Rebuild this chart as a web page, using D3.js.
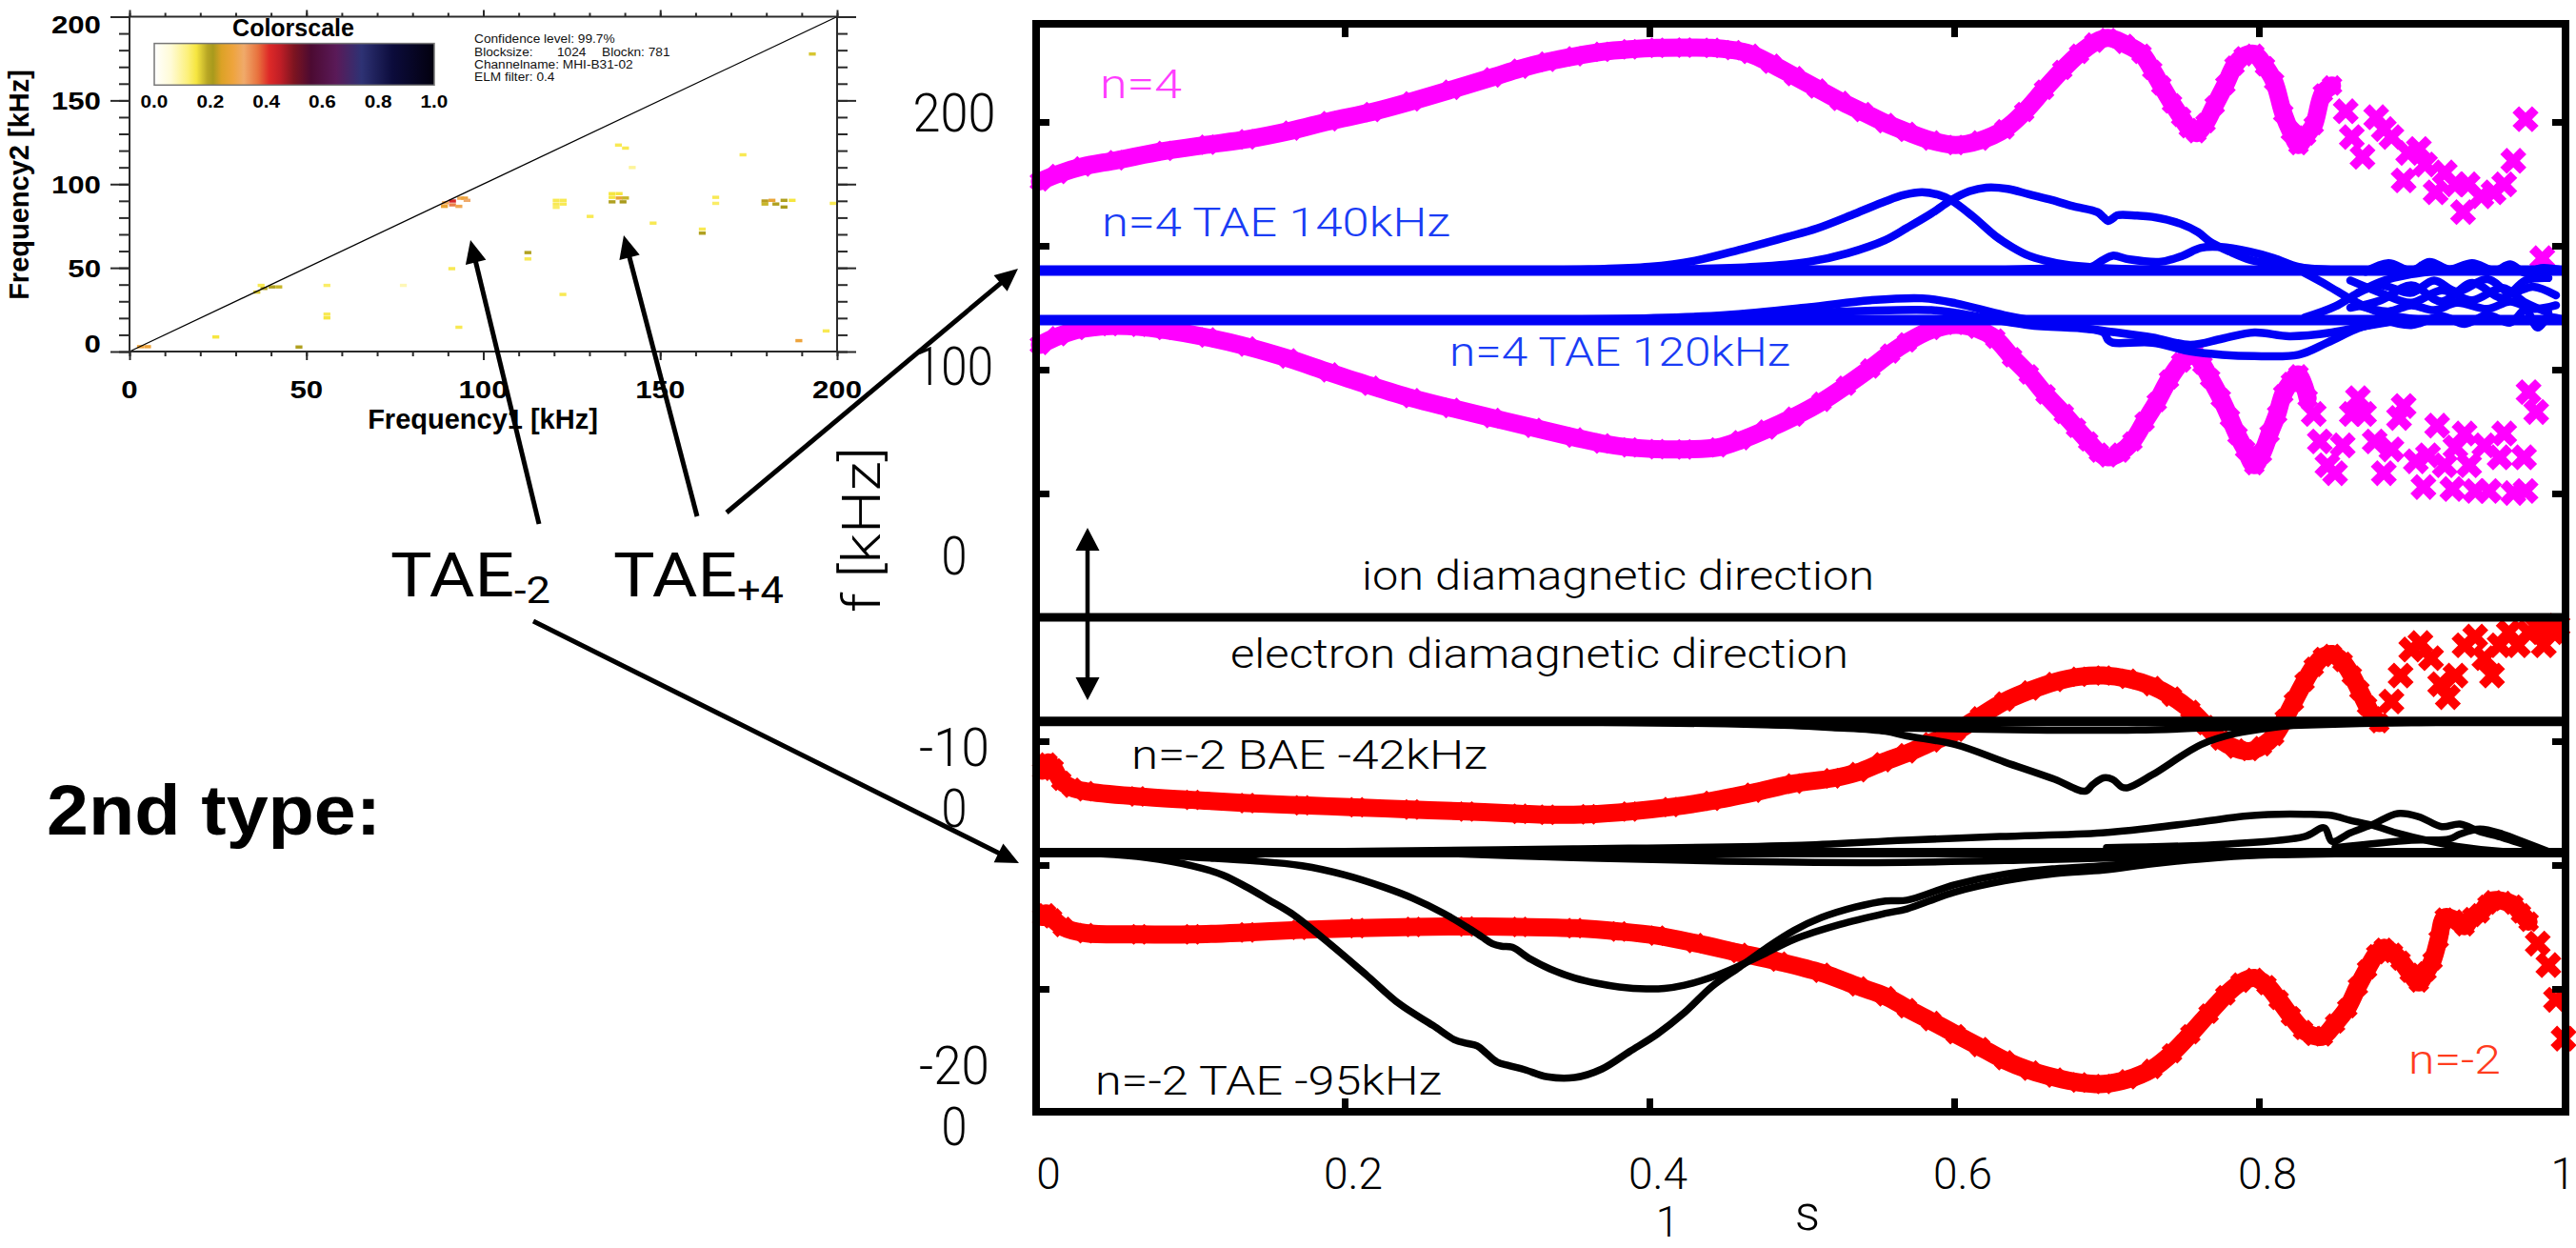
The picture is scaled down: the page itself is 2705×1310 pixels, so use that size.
<!DOCTYPE html>
<html>
<head>
<meta charset="utf-8">
<script src="https://cdn.jsdelivr.net/npm/d3@7"></script>
<style>
  html, body { margin: 0; padding: 0; background: #fff; overflow: hidden; }
  svg { display: block; }
</style>
</head>
<body>
<svg id="fig" width="2705" height="1310"></svg>
<script>
// ---------------- bicoherence panel (MHI-B31-02) ----------------
const bicohTicks = [0, 50, 100, 150, 200];
const bicohMinorTicks = [0,10,20,30,40,50,60,70,80,90,100,110,120,130,140,150,160,170,180,190,200];
const colorbarTicks = [0.0, 0.2, 0.4, 0.6, 0.8, 1.0];
const colorStops = [0, 0.06, 0.12, 0.15, 0.19, 0.21, 0.24, 0.28, 0.32, 0.37, 0.41, 0.45, 0.50, 0.56, 0.65, 0.74, 0.85, 1.0];
const colorStopColors = ["#ffffff","#fffbd6","#fcf07a","#f6e640","#b8a624","#a89a1c","#dca226","#eea43c","#f0aa6a","#e8723e","#de2a28","#c01e26","#7c1420","#4c0a32","#5a1a58","#2e3274","#0c0c3c","#02000e"];
const infoLines = ["Confidence level: 99.7%", "Blocksize:", "Channelname: MHI-B31-02", "ELM filter: 0.4"];
const blockInfo = ["1024", "Blockn: 781"];
const binWidth = 1.953; // kHz
// [f1 kHz, f2 kHz, bicoherence]
const bicohCells = [
  [3.1,2.9,0.28],[5.1,2.9,0.28],[24.4,8.7,0.15],[47.9,2.7,0.2],
  [36.0,35.5,0.17],[38.0,37.7,0.2],[40.2,38.6,0.2],[42.2,38.6,0.18],[37.2,39.5,0.14],
  [55.8,39.5,0.13],[55.8,22.3,0.14],[55.8,20.1,0.15],[77.4,39.5,0.08],[91.1,49.5,0.14],[93.1,14.5,0.14],
  [89.3,88.8,0.3],[91.3,89.9,0.42],[91.3,87.6,0.36],[93.6,91.6,0.3],[94.7,91.6,0.28],[89.0,86.7,0.27],[93.1,86.7,0.3],[95.4,90.3,0.32],
  [112.6,59.1,0.2],[112.6,55.3,0.14],[122.5,34.1,0.14],
  [120.6,90.3,0.14],[122.6,90.3,0.14],[120.6,88.1,0.14],[122.6,88.1,0.14],[120.6,86.1,0.13],
  [130.2,80.7,0.14],
  [136.4,94.3,0.15],[138.4,94.3,0.15],[136.4,92.1,0.15],[138.4,91.7,0.27],[136.4,89.4,0.2],[139.5,89.4,0.21],[140.2,91.7,0.18],
  [138.2,123.3,0.14],[140.2,121.5,0.14],[142.1,109.9,0.1],[148.0,76.7,0.14],
  [161.9,73.1,0.14],[161.9,70.7,0.2],[165.7,92.1,0.14],[165.7,88.5,0.13],[173.4,117.5,0.14],
  [179.6,89.9,0.22],[181.6,90.3,0.27],[179.6,88.1,0.18],[182.7,88.1,0.2],[185.0,90.3,0.2],[187.3,90.3,0.15],[185.0,86.3,0.21],
  [193.0,177.7,0.17],[196.9,12.3,0.14],[189.2,6.5,0.28],[198.9,88.5,0.14]
];

// ---------------- continuum panel ----------------
const sTicks = [0, 0.2, 0.4, 0.6, 0.8, 1];
const sTickLabels = ["0", "0.2", "0.4", "0.6", "0.8", "1"];
const fTicks = [-150, -100, -50, 50, 100, 150, 200];
const fLabelValues = [200, 100, 0, -100, -200];
const fLabelLines = [["200"], ["100"], ["0"], ["-10", "0"], ["-20", "0"]];

// n=4 continuum, [s, f kHz]
const n4Upper = [[0,176],[0.012,179],[0.028,182],[0.05,184.5],[0.082,188.3],[0.11,190.8],[0.136,193],[0.165,196.5],[0.19,200.3],[0.218,204],[0.244,208.3],[0.27,213],[0.297,218],[0.315,221.5],[0.333,224.3],[0.351,226.5],[0.369,228.3],[0.387,229.3],[0.405,229.9],[0.423,230],[0.441,229.9],[0.455,229],[0.466,227.5],[0.48,223.5],[0.495,218.5],[0.51,213.5],[0.525,208.5],[0.54,204],[0.555,199.5],[0.569,196],[0.585,192.5],[0.601,190.7],[0.617,192.5],[0.633,197],[0.646,204],[0.659,213],[0.671,221],[0.682,227.5],[0.692,232],[0.701,233.9],[0.712,231.5],[0.723,227.5],[0.73,221],[0.736,214.7],[0.743,207.5],[0.749,202],[0.754,197.5],[0.759,195.5],[0.765,199.5],[0.771,206.7],[0.778,215],[0.784,222.7],[0.79,226.5],[0.797,227.5],[0.804,222.5],[0.81,216.3],[0.816,203.5],[0.821,196],[0.826,190.7],[0.831,194.5],[0.836,198.7],[0.842,211.5],[0.848,214.7]];
const n4UpperScatter = [[0.857,204.3],[0.861,193.9],[0.868,185.9],[0.877,201.9],[0.882,197.1],[0.887,193.9],[0.895,176.4],[0.898,187.5],[0.905,189.1],[0.909,182.8],[0.916,171.6],[0.922,179.6],[0.929,174.8],[0.934,163.6],[0.937,174.8],[0.946,170],[0.954,171.6],[0.961,174.8],[0.967,184.3],[0.975,201.1],[0.986,145]];
const n4Lower = [[0,110],[0.012,113.5],[0.024,116],[0.046,117.6],[0.065,117.3],[0.082,116],[0.11,113],[0.136,109.3],[0.163,104.5],[0.19,98.9],[0.217,93.5],[0.244,88.5],[0.27,84.5],[0.297,80.5],[0.324,76.5],[0.351,72.6],[0.369,70.2],[0.387,68.6],[0.405,67.9],[0.423,67.8],[0.445,68.6],[0.46,71.5],[0.477,75.8],[0.495,81],[0.513,87],[0.529,93.5],[0.545,100.5],[0.558,106.5],[0.569,111],[0.585,116],[0.601,118.1],[0.615,116.5],[0.627,112.5],[0.638,105],[0.649,98.1],[0.66,90],[0.672,82.1],[0.68,76.5],[0.688,71],[0.695,66.5],[0.701,64.6],[0.709,66.5],[0.717,71],[0.725,79],[0.733,86.9],[0.741,96],[0.749,102.9],[0.757,106.9],[0.763,102],[0.768,96.5],[0.775,88.5],[0.781,80.5],[0.786,73.5],[0.791,67.8],[0.797,61.4],[0.802,66],[0.807,74.1],[0.812,82],[0.816,90.1],[0.821,95],[0.826,98.1],[0.832,88.5]];
const n4LowerScatter = [[0.836,82.1],[0.84,71],[0.845,61.4],[0.85,58.2],[0.855,69.4],[0.861,82.1],[0.865,88.5],[0.869,82.1],[0.876,71],[0.882,58.2],[0.887,67.8],[0.892,80.5],[0.895,85.3],[0.903,63],[0.908,52.6],[0.911,65.4],[0.917,77.4],[0.922,61.4],[0.927,51.8],[0.929,68.6],[0.935,74.2],[0.938,61.4],[0.942,51],[0.948,69.4],[0.951,51],[0.958,64.6],[0.961,74.2],[0.967,50.2],[0.974,64.6],[0.975,51],[0.977,90.9],[0.982,82.9]];

// n=-2 continuum
const nm2Upper = [[0.0015,-61.9],[0.005,-58.6],[0.009,-61],[0.014,-66],[0.021,-68.8],[0.03,-70.2],[0.064,-72.3],[0.1,-73.7],[0.136,-75],[0.172,-75.9],[0.208,-76.7],[0.244,-77.6],[0.28,-78.4],[0.315,-79.3],[0.333,-79.7],[0.36,-79.5],[0.387,-78.4],[0.414,-76.6],[0.441,-74.1],[0.468,-70.8],[0.495,-67.1],[0.52,-65],[0.537,-62.5],[0.553,-58.5],[0.569,-54.9],[0.585,-50.5],[0.601,-46.2],[0.617,-40],[0.633,-34],[0.65,-29.5],[0.666,-26.1],[0.682,-24],[0.698,-23.5],[0.714,-24.8],[0.73,-27.8],[0.743,-32],[0.755,-37.4],[0.765,-43.5],[0.775,-49.7],[0.785,-53],[0.794,-54],[0.802,-52],[0.81,-47.9],[0.817,-41],[0.823,-34],[0.83,-26],[0.836,-20],[0.842,-16],[0.848,-14.8],[0.855,-18],[0.861,-23.5],[0.866,-29.5],[0.871,-35.7],[0.875,-40],[0.879,-42.7]];
const nm2UpperScatter = [[0.887,-34],[0.893,-23.5],[0.9,-13],[0.906,-10.4],[0.913,-16.5],[0.919,-27],[0.924,-32.2],[0.929,-23.5],[0.935,-11.3],[0.942,-7.8],[0.948,-16.5],[0.953,-23.5],[0.958,-11.3],[0.964,-6],[0.97,-11.3],[0.977,-6],[0.983,-4.3],[0.987,-11.3],[0.993,-6],[0.996,-3.4]];
const nm2Lower = [[0.0015,-121],[0.004,-119.5],[0.008,-121.5],[0.015,-125],[0.03,-127.5],[0.065,-128],[0.1,-128],[0.136,-127.2],[0.17,-126.2],[0.208,-125.5],[0.245,-125],[0.28,-124.8],[0.315,-125],[0.351,-125.5],[0.38,-126.8],[0.405,-128.5],[0.43,-131.5],[0.459,-135.5],[0.485,-139],[0.513,-143.5],[0.537,-149],[0.555,-153],[0.569,-157.8],[0.585,-163],[0.601,-168.3],[0.617,-173.5],[0.633,-178.8],[0.65,-183],[0.666,-185.8],[0.682,-187.8],[0.698,-188.4],[0.714,-186.5],[0.73,-182.3],[0.743,-176],[0.755,-168.3],[0.767,-160],[0.778,-152.6],[0.788,-147.5],[0.797,-145.6],[0.805,-148.5],[0.813,-154.4],[0.821,-161],[0.829,-166.6],[0.836,-169],[0.842,-169.2],[0.85,-164],[0.858,-157.8],[0.865,-149],[0.871,-142.1],[0.877,-136],[0.882,-133.4],[0.888,-135.5],[0.893,-138.6],[0.899,-143.5],[0.905,-147.4],[0.91,-143],[0.914,-138.6],[0.918,-130],[0.922,-121.2],[0.928,-122],[0.935,-124.7],[0.94,-121],[0.945,-119.5],[0.95,-116],[0.954,-114.2],[0.96,-114.5],[0.967,-116],[0.972,-119.5],[0.977,-122.9]];
const nm2LowerScatter = [[0.983,-131.7],[0.99,-140.4],[0.995,-154.4],[1.0,-170.1]];

// n=4 TAE eigenmode frequencies and branches (blue)
const taeN4 = [140, 120];
const n4Branches = [
  [[0.3,140],[0.36,140.5],[0.4,141.5],[0.43,144],[0.46,148.5],[0.49,153.5],[0.51,157],[0.535,163],[0.555,168],[0.567,170.5],[0.579,171.6],[0.59,170.5],[0.598,168.4],[0.612,162],[0.627,154],[0.638,149.5],[0.649,146],[0.66,144],[0.672,142.5],[0.694,141.2],[0.73,140.3],[0.8,140]],
  [[0.35,140],[0.42,140.5],[0.47,141.5],[0.505,143.6],[0.53,147],[0.555,152.4],[0.569,157.2],[0.585,163],[0.598,168.4],[0.61,172],[0.621,173.5],[0.635,173],[0.649,170.8],[0.664,168.5],[0.678,166],[0.694,163.6],[0.698,161.5],[0.701,160],[0.704,161],[0.707,162.3],[0.72,162.2],[0.73,161.7],[0.749,158.8],[0.76,155.5],[0.768,151.6],[0.781,147.6],[0.794,144.4],[0.81,142.5],[0.826,141.2],[0.858,140]],
  [[0.62,140],[0.67,141],[0.69,141.5],[0.697,144],[0.704,146],[0.715,144.5],[0.736,143.6],[0.75,146],[0.762,149.2],[0.775,149.5],[0.794,147.6],[0.81,145],[0.826,141.5],[0.85,140]],
  [[0.3,120],[0.4,120.8],[0.45,122],[0.505,125.2],[0.545,128],[0.579,128.8],[0.601,126.8],[0.633,122],[0.665,118.5],[0.698,115.7],[0.73,113],[0.755,110],[0.776,112.5],[0.797,115],[0.82,113.5],[0.848,115],[0.869,117.5],[0.89,119.5],[0.91,120]],
  [[0.35,120],[0.45,121],[0.505,122.9],[0.585,124],[0.601,122.9],[0.649,118],[0.698,115],[0.701,112],[0.704,110.9],[0.73,110.9],[0.755,107.4],[0.776,106],[0.797,105.5],[0.826,106],[0.845,110.9],[0.868,117.3],[0.89,119.7],[0.91,120]],
  [[0.83,139],[0.845,134],[0.86,128.5],[0.875,124],[0.89,121.5],[0.91,120]],
  [[0.83,121],[0.85,125.5],[0.865,131],[0.88,135.5],[0.9,138.5],[0.92,140]],
  [[0.86,136],[0.88,131],[0.9,127],[0.92,132],[0.94,128],[0.96,133],[0.975,127],[0.99,123]],
  [[0.86,125],[0.88,128],[0.9,134],[0.92,127.5],[0.94,135],[0.96,129],[0.975,136],[0.99,137]],
  [[0.865,131],[0.88,134],[0.9,131],[0.915,136],[0.93,131.5],[0.95,136.5],[0.965,131],[0.98,133.5],[0.995,130]],
  [[0.865,126],[0.885,123.5],[0.9,126],[0.915,124],[0.93,127],[0.95,124.5],[0.965,127.5],[0.98,124.5],[0.995,126]],
  [[0.87,139.5],[0.885,143],[0.9,140],[0.912,143.5],[0.925,140.5],[0.94,143],[0.955,140],[0.965,142.5],[0.975,139],[0.985,141],[1.0,140]],
  [[0.88,120.5],[0.9,118],[0.92,121.5],[0.935,118.5],[0.95,122],[0.965,119],[0.975,124],[0.983,117],[0.99,121],[1.0,120]]
];

// n=-2 BAE / TAE eigenmode frequencies and branches (black)
const gapNm2 = [-42, -95];
const nm2Branches = [
  [[0.3,-42],[0.45,-43],[0.55,-44.5],[0.65,-45.5],[0.72,-45.5],[0.8,-44],[0.9,-42.5],[1.0,-42]],
  [[0.4,-42],[0.47,-43],[0.52,-44.5],[0.555,-46],[0.569,-47.9],[0.601,-51.4],[0.633,-58.4],[0.666,-65.4],[0.686,-70.2],[0.691,-67.5],[0.698,-64.8],[0.704,-65.4],[0.71,-68.5],[0.714,-68.8],[0.73,-63.6],[0.762,-51.4],[0.784,-47],[0.81,-44.4],[0.842,-42.7],[0.9,-42]],
  [[0,-95],[0.06,-95.2],[0.1,-96.8],[0.14,-98.3],[0.172,-100.3],[0.2,-104],[0.226,-109],[0.245,-113.5],[0.265,-119.5],[0.28,-125],[0.29,-129],[0.297,-131.8],[0.303,-132.8],[0.31,-133.2],[0.322,-138],[0.335,-142],[0.351,-145.6],[0.366,-147.8],[0.38,-149.2],[0.398,-150],[0.41,-149.8],[0.423,-148.5],[0.44,-145.5],[0.456,-141.5],[0.475,-136],[0.495,-130],[0.525,-124],[0.555,-119.5],[0.569,-117.7],[0.6,-111],[0.633,-106.4],[0.666,-103.5],[0.698,-102],[0.73,-99.5],[0.762,-97.6],[0.8,-96],[0.85,-95.3],[0.9,-95]],
  [[0,-95],[0.04,-95.5],[0.07,-97],[0.1,-100.3],[0.12,-104],[0.136,-109],[0.15,-114],[0.165,-119.5],[0.19,-131.7],[0.215,-144.8],[0.236,-156.1],[0.258,-164.8],[0.272,-170.5],[0.28,-172],[0.287,-173],[0.293,-176],[0.3,-179.5],[0.308,-181],[0.318,-182.6],[0.333,-185.5],[0.351,-185.8],[0.369,-182.3],[0.387,-175.3],[0.405,-168.3],[0.423,-159.6],[0.441,-149.1],[0.459,-141.3],[0.477,-133.4],[0.495,-126.4],[0.513,-121.2],[0.535,-117],[0.555,-114.5],[0.569,-114.2],[0.6,-108],[0.633,-103.7],[0.666,-101.5],[0.698,-100.3],[0.73,-98.5],[0.762,-96.8],[0.8,-95.5],[0.85,-95.1],[0.9,-95]],
  [[0,-95],[0.2,-94.5],[0.35,-93.5],[0.5,-92],[0.5675,-90],[0.63,-88.5],[0.697,-87],[0.73,-85],[0.764,-82.4],[0.79,-80.3],[0.806,-79.6],[0.83,-79.5],[0.848,-80],[0.86,-82],[0.875,-84],[0.89,-87],[0.91,-90],[0.93,-92.5],[0.96,-94.5],[1.0,-95]],
  [[0.7,-93],[0.78,-91.5],[0.83,-88.5],[0.843,-85],[0.848,-90.5],[0.86,-87],[0.875,-83.5],[0.891,-79.2],[0.905,-80.5],[0.92,-84.5],[0.932,-83.5],[0.945,-86.5],[0.96,-89],[0.975,-92],[0.99,-95]],
  [[0.85,-93],[0.9,-90],[0.925,-89.5],[0.932,-87.5],[0.945,-85.5],[0.96,-87.5],[0.975,-91],[0.99,-94.5]],
  [[0.25,-95],[0.35,-97],[0.45,-98.5],[0.55,-99],[0.65,-98],[0.75,-96.5],[0.85,-95.5]]
];

// ---------------- drawing ----------------
const LIGHT = "Roboto, 'Open Sans', 'DejaVu Sans', sans-serif";
const BOLD = "'Liberation Sans', Arial, Helvetica, sans-serif";
const svg = d3.select("#fig");
const defs = svg.append("defs");

function stretch(sel, k) {
  sel.each(function () {
    const w = this.getComputedTextLength();
    d3.select(this).attr("textLength", w * k).attr("lengthAdjust", "spacingAndGlyphs");
  });
}
function fit(sel, w) { return sel.attr("textLength", w).attr("lengthAdjust", "spacingAndGlyphs"); }

// ===== bicoherence =====
const xB = d3.scaleLinear([0, 200], [136, 879]);
const yB = d3.scaleLinear([0, 200], [369, 17.5]);
const bicColor = d3.scaleLinear(colorStops, colorStopColors).clamp(true);
const gL = svg.append("g");

gL.selectAll("rect.cell").data(bicohCells).join("rect").attr("class", "cell")
  .attr("x", d => xB(d[0] - binWidth / 2)).attr("y", d => yB(d[1] + binWidth / 2))
  .attr("width", xB(binWidth) - xB(0)).attr("height", yB(0) - yB(binWidth))
  .attr("fill", d => bicColor(d[2]));

gL.append("line").attr("x1", xB(0)).attr("y1", yB(0)).attr("x2", xB(200)).attr("y2", yB(200))
  .attr("stroke", "#000").attr("stroke-width", 1.3);
gL.append("rect").attr("x", xB(0)).attr("y", yB(200)).attr("width", xB(200) - xB(0)).attr("height", yB(0) - yB(200))
  .attr("fill", "none").attr("stroke", "#2a2a2a").attr("stroke-width", 2);

function ticks(axis, tx, ty, vals, size) {
  const g = gL.append("g").attr("transform", `translate(${tx},${ty})`)
    .call(axis.tickValues(vals).tickSize(size).tickFormat(""));
  g.select(".domain").remove();
  g.selectAll("line").attr("stroke", "#2a2a2a").attr("stroke-width", 2);
}
ticks(d3.axisBottom(xB), 0, yB(0), bicohTicks, 9);
ticks(d3.axisBottom(xB), 0, yB(0), bicohMinorTicks, 5);
ticks(d3.axisTop(xB), 0, yB(200), bicohTicks, 7);
ticks(d3.axisTop(xB), 0, yB(200), bicohMinorTicks, 4);
ticks(d3.axisLeft(yB), xB(0), 0, bicohTicks, 20);
ticks(d3.axisLeft(yB), xB(0), 0, bicohMinorTicks, 11);
ticks(d3.axisRight(yB), xB(200), 0, bicohTicks, 20);
ticks(d3.axisRight(yB), xB(200), 0, bicohMinorTicks, 11);

const bxl = gL.selectAll("text.bx").data(bicohTicks).join("text").attr("class", "bx")
  .attr("x", d => xB(d)).attr("y", 418).attr("text-anchor", "middle")
  .attr("font-family", BOLD).attr("font-weight", 700).attr("font-size", 26).text(d => d);
stretch(bxl, 1.2);
const byl = gL.selectAll("text.by").data(bicohTicks).join("text").attr("class", "by")
  .attr("x", 106).attr("y", d => yB(d) + (d === 200 ? 17.5 : d === 0 ? 1 : 9.5)).attr("text-anchor", "end")
  .attr("font-family", BOLD).attr("font-weight", 700).attr("font-size", 26).text(d => d);
stretch(byl, 1.2);
gL.append("text").attr("x", 507).attr("y", 450).attr("text-anchor", "middle")
  .attr("font-family", BOLD).attr("font-weight", 700).attr("font-size", 29).text("Frequency1 [kHz]");
gL.append("text").attr("transform", "translate(30,194) rotate(-90)").attr("text-anchor", "middle")
  .attr("font-family", BOLD).attr("font-weight", 700).attr("font-size", 29).text("Frequency2 [kHz]");

// colour bar
const xC = d3.scaleLinear([0, 1], [162, 456]);
const grad = defs.append("linearGradient").attr("id", "bicohGrad").attr("x1", 0).attr("x2", 1).attr("y1", 0).attr("y2", 0);
grad.selectAll("stop").data(colorStops).join("stop")
  .attr("offset", d => d).attr("stop-color", (d, i) => colorStopColors[i]);
gL.append("rect").attr("x", xC(0)).attr("y", 45.6).attr("width", xC(1) - xC(0)).attr("height", 43.7)
  .attr("fill", "url(#bicohGrad)").attr("stroke", "#777").attr("stroke-width", 1.5);
gL.append("text").attr("x", 308).attr("y", 38).attr("text-anchor", "middle")
  .attr("font-family", BOLD).attr("font-weight", 700).attr("font-size", 25).text("Colorscale");
const cbl = gL.selectAll("text.cb").data(colorbarTicks).join("text").attr("class", "cb")
  .attr("x", d => xC(d)).attr("y", 113).attr("text-anchor", "middle")
  .attr("font-family", BOLD).attr("font-weight", 700).attr("font-size", 18).text(d => d.toFixed(1));
stretch(cbl, 1.15);

const infoY = [45, 58.5, 71.5, 85];
gL.selectAll("text.info").data(infoLines).join("text").attr("class", "info")
  .attr("x", 498).attr("y", (d, i) => infoY[i])
  .attr("font-family", BOLD).attr("font-size", 13.7).attr("fill", "#111").text(d => d);
gL.append("text").attr("x", 585).attr("y", infoY[1]).attr("font-family", BOLD).attr("font-size", 13.7).attr("fill", "#111").text(blockInfo[0]);
gL.append("text").attr("x", 632).attr("y", infoY[1]).attr("font-family", BOLD).attr("font-size", 13.7).attr("fill", "#111").text(blockInfo[1]);

// ===== continuum panel =====
const x = d3.scaleLinear([0, 1], [1092, 2692]);
const y = d3.scaleLinear([-200, 240], [1168, 24]);
const gR = svg.append("g");
const path = d3.line().x(d => x(d[0])).y(d => y(d[1])).curve(d3.curveCatmullRom.alpha(0.5));
const crossSmall = d3.symbol(d3.symbolCross, 300)();
const crossBig = d3.symbol(d3.symbolCross, 470)();

function continuum(dense, scatter, color) {
  gR.append("path").attr("d", path(dense)).attr("fill", "none").attr("stroke", color)
    .attr("stroke-width", 19).attr("stroke-linecap", "round").attr("stroke-linejoin", "round");
  gR.append("g").selectAll("path").data(dense).join("path")
    .attr("d", crossSmall).attr("fill", color)
    .attr("transform", d => `translate(${x(d[0])},${y(d[1])}) rotate(45)`);
  gR.append("g").selectAll("path").data(scatter).join("path")
    .attr("d", crossBig).attr("fill", color)
    .attr("transform", d => `translate(${x(d[0])},${y(d[1])}) rotate(45)`);
}
continuum(n4Upper, n4UpperScatter, "#ff00ff");
continuum(n4Lower, n4LowerScatter, "#ff00ff");
continuum(nm2Upper, nm2UpperScatter, "#ff0000");
continuum(nm2Lower, nm2LowerScatter, "#ff0000");

// eigenmode branches
gR.append("g").selectAll("path").data(n4Branches).join("path")
  .attr("d", path).attr("fill", "none").attr("stroke", "#0000f6").attr("stroke-width", 8.5)
  .attr("stroke-linecap", "round").attr("stroke-linejoin", "round");
gR.append("g").selectAll("path").data(nm2Branches).join("path")
  .attr("d", path).attr("fill", "none").attr("stroke", "#000").attr("stroke-width", 7.5)
  .attr("stroke-linecap", "round").attr("stroke-linejoin", "round");
gR.append("g").selectAll("line").data(taeN4).join("line")
  .attr("x1", x(0)).attr("x2", x(1)).attr("y1", d => y(d)).attr("y2", d => y(d))
  .attr("stroke", "#0000f6").attr("stroke-width", 11);
gR.append("g").selectAll("line").data(gapNm2).join("line")
  .attr("x1", x(0)).attr("x2", x(1)).attr("y1", d => y(d)).attr("y2", d => y(d))
  .attr("stroke", "#000").attr("stroke-width", 10);
// zero line: ion / electron diamagnetic direction
gR.append("line").attr("x1", x(0)).attr("x2", x(1)).attr("y1", y(0)).attr("y2", y(0))
  .attr("stroke", "#000").attr("stroke-width", 9);

// frame and ticks
gR.append("rect").attr("x", 1088).attr("y", 25).attr("width", 1606).attr("height", 1142)
  .attr("fill", "none").attr("stroke", "#000").attr("stroke-width", 8);
function rTicks(axis, tx, ty, vals) {
  const g = gR.append("g").attr("transform", `translate(${tx},${ty})`)
    .call(axis.tickValues(vals).tickSize(-14).tickFormat(""));
  g.select(".domain").remove();
  g.selectAll("line").attr("stroke", "#000").attr("stroke-width", 7);
}
const innerS = sTicks.slice(1, -1);
rTicks(d3.axisTop(x), 0, 25, innerS);
rTicks(d3.axisBottom(x), 0, 1167, innerS);
rTicks(d3.axisLeft(y), 1088, 0, fTicks);
rTicks(d3.axisRight(y), 2694, 0, fTicks);

// tick labels
const last = sTicks.length - 1;
gR.selectAll("text.sl").data(sTicks).join("text").attr("class", "sl")
  .attr("x", (d, i) => i === last ? 2704 : x(d) + 9).attr("y", 1248)
  .attr("text-anchor", (d, i) => i === last ? "end" : "middle")
  .attr("font-family", LIGHT).attr("font-weight", 300)
  .attr("font-size", 46).text((d, i) => sTickLabels[i]);
gR.append("text").attr("x", 1898).attr("y", 1291).attr("text-anchor", "middle")
  .attr("font-family", LIGHT).attr("font-weight", 300).attr("font-size", 52).text("s");
gR.append("text").attr("x", 1751).attr("y", 1298).attr("text-anchor", "middle")
  .attr("font-family", LIGHT).attr("font-weight", 300).attr("font-size", 44).text("1");

const fLabelNudge = [10, 16, -45, -104, -30];
const fLabelWidth = { "200": 87, "100": 82, "0": 27, "-10": 74, "-20": 74 };
fLabelValues.forEach((v, i) => {
  fLabelLines[i].forEach((t, j) => {
    fit(gR.append("text").attr("x", 1002).attr("y", y(v) + fLabelNudge[i] + j * 64)
      .attr("text-anchor", "middle").attr("font-family", LIGHT).attr("font-weight", 300)
      .attr("font-size", 56).text(t), fLabelWidth[t]);
  });
});
fit(gR.append("text").attr("transform", "translate(924,556) rotate(-90)").attr("text-anchor", "middle")
  .attr("font-family", LIGHT).attr("font-weight", 300).attr("font-size", 56).text("f [kHz]"), 174);

// annotations inside the panel
const notes = [
  { t: "n=4", x: 1155, y: 103, w: 86, c: "#ff3dff" },
  { t: "n=4 TAE 140kHz", x: 1157, y: 248, w: 366, c: "#1a3cf5" },
  { t: "n=4 TAE 120kHz", x: 1522, y: 384, w: 358, c: "#1a3cf5" },
  { t: "ion diamagnetic direction", x: 1430, y: 619, w: 538, c: "#000" },
  { t: "electron diamagnetic direction", x: 1292, y: 701, w: 649, c: "#000" },
  { t: "n=-2 BAE -42kHz", x: 1188, y: 807, w: 374, c: "#000" },
  { t: "n=-2 TAE -95kHz", x: 1150, y: 1149, w: 364, c: "#000" },
  { t: "n=-2", x: 2529, y: 1127, w: 97, c: "#ff3c1e" }
];
notes.forEach(n => fit(gR.append("text").attr("x", n.x).attr("y", n.y).attr("fill", n.c)
  .attr("font-family", LIGHT).attr("font-weight", 300).attr("font-size", 42).text(n.t), n.w));

// double arrow: ion / electron direction
const ga = gR.append("g");
ga.append("line").attr("x1", 1142).attr("x2", 1142).attr("y1", 572).attr("y2", 716).attr("stroke", "#000").attr("stroke-width", 4.5);
ga.append("path").attr("d", "M1142,554 L1154.5,578 L1129.5,578 Z").attr("fill", "#000");
ga.append("path").attr("d", "M1142,735 L1154.5,711 L1129.5,711 Z").attr("fill", "#000");

// ===== mode labels and pointing arrows =====
const gT = svg.append("g");
function tae(xs, sub, subX, subW) {
  fit(gT.append("text").attr("x", xs).attr("y", 626).attr("font-family", LIGHT).attr("font-weight", 400)
    .attr("font-size", 64).text("TAE"), 130);
  fit(gT.append("text").attr("x", subX).attr("y", 633).attr("font-family", LIGHT).attr("font-weight", 400)
    .attr("font-size", 38).text(sub), subW);
}
tae(410, "-2", 540, 38);
tae(644, "+4", 774, 49);
fit(gT.append("text").attr("x", 49).attr("y", 876).attr("font-family", BOLD).attr("font-weight", 700)
  .attr("font-size", 74).text("2nd type:"), 351);

function arrow(x1, y1, x2, y2) {
  const L = Math.hypot(x2 - x1, y2 - y1), ux = (x2 - x1) / L, uy = (y2 - y1) / L;
  const hl = 24, hw = 11;
  const bx = x2 - ux * hl, by = y2 - uy * hl;
  gT.append("line").attr("x1", x1).attr("y1", y1).attr("x2", bx + ux * 2).attr("y2", by + uy * 2)
    .attr("stroke", "#000").attr("stroke-width", 5);
  gT.append("path").attr("fill", "#000")
    .attr("d", `M${x2},${y2} L${bx - uy * hw},${by + ux * hw} L${bx + uy * hw},${by - ux * hw} Z`);
}
arrow(566, 550, 494, 252);
arrow(732, 542, 655, 247);
arrow(763, 538, 1069, 282);
arrow(560, 652, 1070, 906);
</script>
</body>
</html>
